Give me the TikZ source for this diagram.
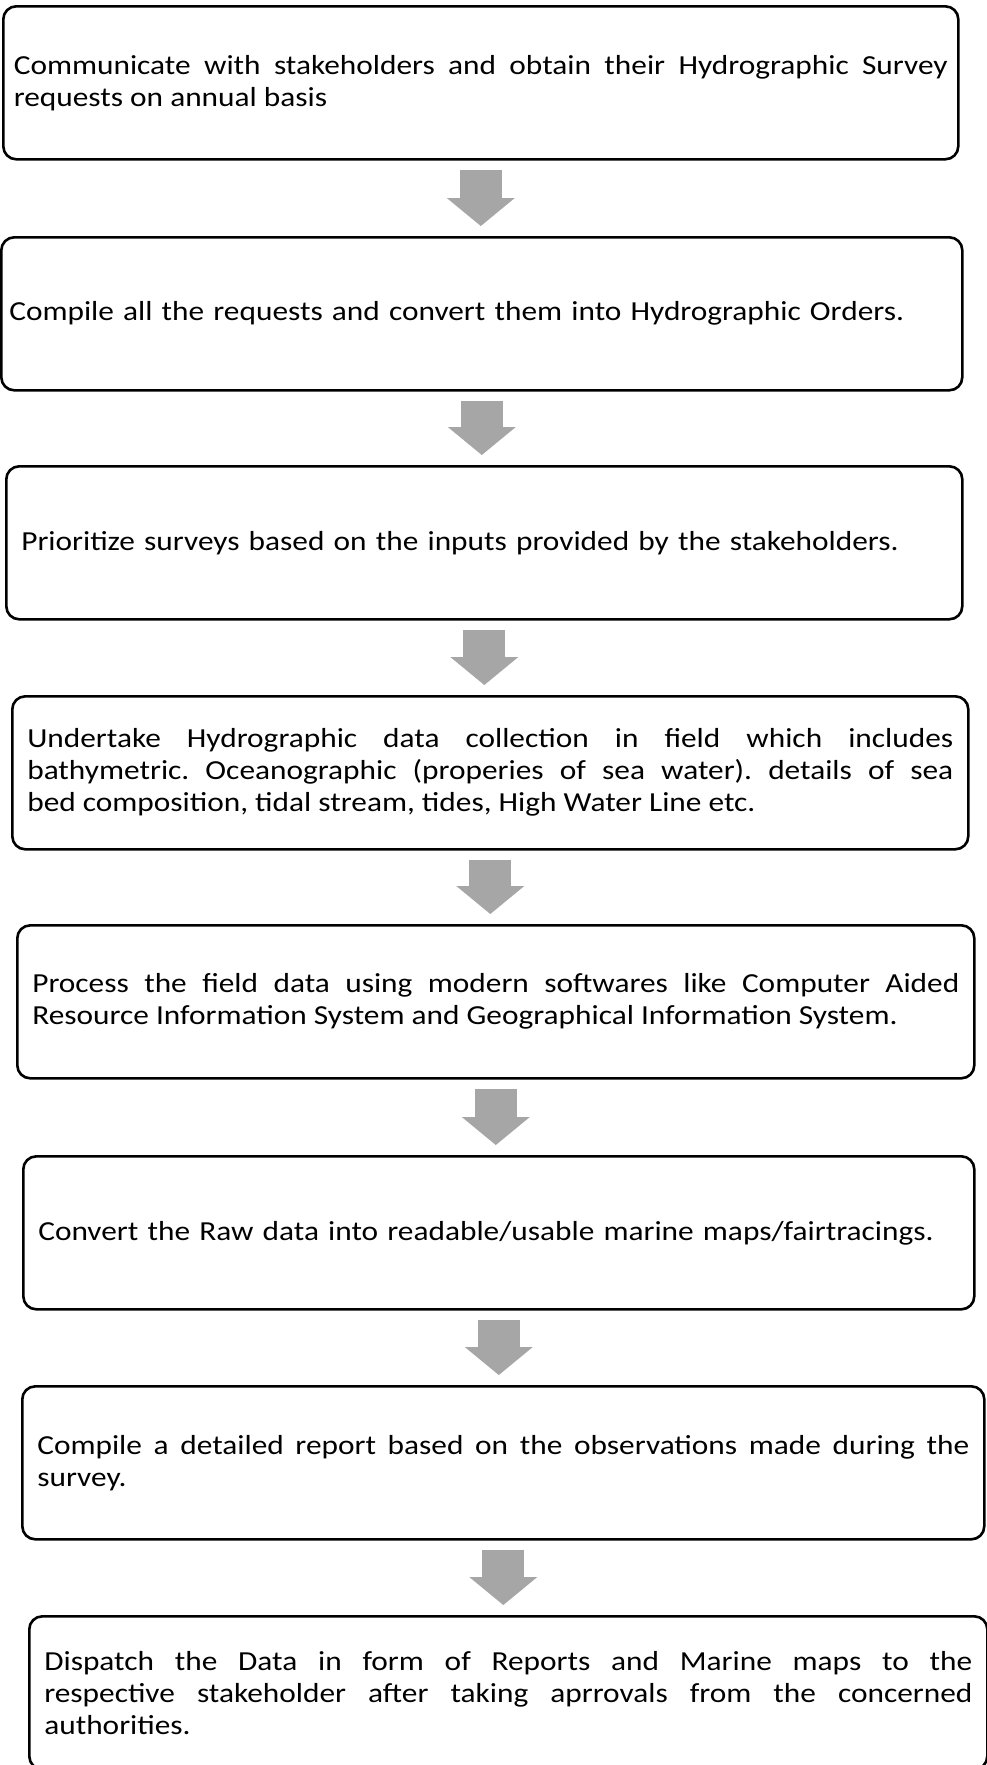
\documentclass[tikz,border=0pt]{standalone}
\usepackage{fontspec}
\setmainfont[FakeStretch=1.14]{Carlito}
\usepackage{tikz}
\usetikzlibrary{arrows.meta,positioning,calc}
\definecolor{arrowgray}{HTML}{A6A6A6}
\frenchspacing

\begin{document}
\begin{tikzpicture}[
  x=1pt, y=-1pt,
  box/.style={draw, line width=2.6pt, rounded corners=13pt, anchor=north west, minimum height=153pt, inner xsep=15pt, inner ysep=0pt, align=left, font=\fontsize{27.5}{32}\selectfont},
  just/.style={align=justify},
  arr/.style={draw=arrowgray, line width=42pt, -{Triangle[width=68pt, length=28pt, line width=0pt]}, shorten <=9pt, shorten >=10pt},
]
  \useasboundingbox (0,0) rectangle (987,1765);
  \clip (0,0) rectangle (987,1765);

  % Steps, top to bottom
  \node[box, just, inner xsep=9pt, text width=934pt, minimum width=955pt] (req) at (2,5) {Communicate with stakeholders and obtain their Hydrographic Survey\linebreak requests on annual basis};
  \node[box, inner xsep=8pt, text width=945pt] (orders) at (0,236) {Compile all the requests and convert them into Hydrographic Orders.};
  \node[box, text width=926pt] (prio) at (5,465) {Prioritize surveys based on the inputs provided by the stakeholders.};
  \node[box, just, text width=926pt] (collect) at (11,695) {Undertake Hydrographic data collection in field which includes\linebreak bathymetric. Oceanographic (properies of sea water). details of sea\linebreak bed composition, tidal stream, tides, High Water Line etc.};
  \node[box, just, text width=927pt] (process) at (16,924) {Process the field data using modern softwares like Computer Aided\linebreak Resource Information System and Geographical Information System.};
  \node[box, text width=921pt] (convert) at (22,1155) {Convert the Raw data into readable/usable marine maps/fairtracings.};
  \node[box, just, text width=932pt] (report) at (21,1385) {Compile a detailed report based on the observations made during the\linebreak survey.};
  \node[box, just, text width=928pt] (dispatch) at (28,1615) {Dispatch the Data in form of Reports and Marine maps to the\linebreak respective stakeholder after taking aprrovals from the concerned\linebreak authorities.};

  % Block arrows between steps
  \draw[arr] (req.south) -- (req.south |- orders.north);
  \draw[arr] (orders.south) -- (orders.south |- prio.north);
  \draw[arr] (prio.south) -- (prio.south |- collect.north);
  \draw[arr] (collect.south) -- (collect.south |- process.north);
  \draw[arr] (process.south) -- (process.south |- convert.north);
  \draw[arr] (convert.south) -- (convert.south |- report.north);
  \draw[arr] (report.south) -- (report.south |- dispatch.north);
\end{tikzpicture}
\end{document}
